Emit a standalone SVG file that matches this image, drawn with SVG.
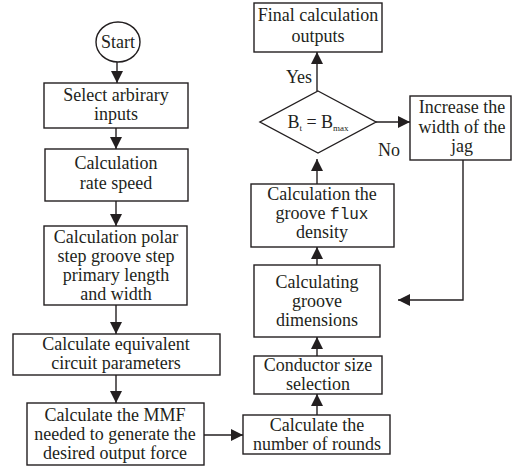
<svg xmlns="http://www.w3.org/2000/svg" width="512" height="468" viewBox="0 0 512 468">
<style>
.box{fill:#fff;stroke:#231f20;stroke-width:1.4}
.ln{fill:none;stroke:#231f20;stroke-width:1.4}
.t text{font-size:18px;fill:#231f20;text-anchor:middle}
</style>
<defs>
<marker id="ah" markerUnits="userSpaceOnUse" markerWidth="13" markerHeight="12" refX="12" refY="6" orient="auto">
<path d="M0,0 L12,6 L0,12 z" fill="#231f20"/>
</marker>
</defs>
<rect width="512" height="468" fill="#fff"/>
<g class="t" font-family="Liberation Serif, Times New Roman, DejaVu Serif, serif">
<g id="connectors">
<line class="ln" x1="117" y1="62" x2="117" y2="83" marker-end="url(#ah)"/>
<line class="ln" x1="116" y1="128" x2="116" y2="149" marker-end="url(#ah)"/>
<line class="ln" x1="116" y1="201" x2="116" y2="226" marker-end="url(#ah)"/>
<line class="ln" x1="116" y1="305" x2="116" y2="334" marker-end="url(#ah)"/>
<line class="ln" x1="116" y1="375" x2="116" y2="403" marker-end="url(#ah)"/>
<line class="ln" x1="204" y1="435" x2="243" y2="435" marker-end="url(#ah)"/>
<line class="ln" x1="317" y1="415" x2="317" y2="394" marker-end="url(#ah)"/>
<line class="ln" x1="317" y1="356" x2="317" y2="337" marker-end="url(#ah)"/>
<line class="ln" x1="317" y1="265" x2="317" y2="247" marker-end="url(#ah)"/>
<line class="ln" x1="317" y1="184" x2="317" y2="159" marker-end="url(#ah)"/>
<line class="ln" x1="317" y1="91" x2="317" y2="52" marker-end="url(#ah)"/>
<line class="ln" x1="376" y1="122" x2="410" y2="122" marker-end="url(#ah)"/>
<polyline class="ln" points="463,160 463,300 398,300" marker-end="url(#ah)"/>
<text x="299" y="83">Yes</text>
<text x="389" y="156">No</text>
</g>
<g id="start">
<ellipse class="box" cx="118" cy="42" rx="22" ry="20"/>
<text x="118" y="48">Start</text>
</g>
<g id="select">
<rect class="box" x="44" y="83" width="144" height="45"/>
<text x="116" y="101">Select arbirary</text>
<text x="116" y="120">inputs</text>
</g>
<g id="rate">
<rect class="box" x="45" y="149" width="143" height="52"/>
<text x="116" y="169">Calculation</text>
<text x="116" y="189">rate speed</text>
</g>
<g id="polar">
<rect class="box" x="44" y="226" width="143" height="79"/>
<text x="116" y="243">Calculation polar</text>
<text x="116" y="262">step groove step</text>
<text x="116" y="281">primary length</text>
<text x="116" y="300">and width</text>
</g>
<g id="equiv">
<rect class="box" x="13" y="334" width="207" height="41"/>
<text x="116" y="350">Calculate equivalent</text>
<text x="116" y="369">circuit parameters</text>
</g>
<g id="mmf">
<rect class="box" x="27" y="403" width="177" height="62"/>
<text x="115" y="421">Calculate the MMF</text>
<text x="115" y="440">needed to generate the</text>
<text x="115" y="459">desired output force</text>
</g>
<g id="rounds">
<rect class="box" x="243" y="415" width="147" height="39"/>
<text x="317" y="431">Calculate the</text>
<text x="317" y="450">number of rounds</text>
</g>
<g id="conductor">
<rect class="box" x="254" y="356" width="128" height="38"/>
<text x="318" y="371">Conductor size</text>
<text x="318" y="390">selection</text>
</g>
<g id="dimensions">
<rect class="box" x="254" y="265" width="126" height="72"/>
<text x="317" y="288">Calculating</text>
<text x="317" y="307">groove</text>
<text x="317" y="326">dimensions</text>
</g>
<g id="flux">
<rect class="box" x="251" y="184" width="143" height="63"/>
<text x="322" y="200">Calculation the</text>
<text x="322" y="219">groove <tspan font-family="Liberation Mono, Courier New, monospace" font-size="16">flux</tspan></text>
<text x="322" y="238">density</text>
</g>
<g id="decision">
<polygon class="box" points="318,91 376,122 318,153 260,122"/>
<text x="318" y="128">B<tspan font-size="9" dy="3">t</tspan><tspan dy="-3"> = B</tspan><tspan font-size="9" dy="3">max</tspan></text>
</g>
<g id="final">
<rect class="box" x="254" y="3" width="128" height="49"/>
<text x="318" y="21">Final calculation</text>
<text x="318" y="42">outputs</text>
</g>
<g id="increase">
<rect class="box" x="410" y="96" width="101" height="64"/>
<text x="462" y="113">Increase the</text>
<text x="462" y="133">width of the</text>
<text x="462" y="152">jag</text>
</g>
</g>
</svg>
